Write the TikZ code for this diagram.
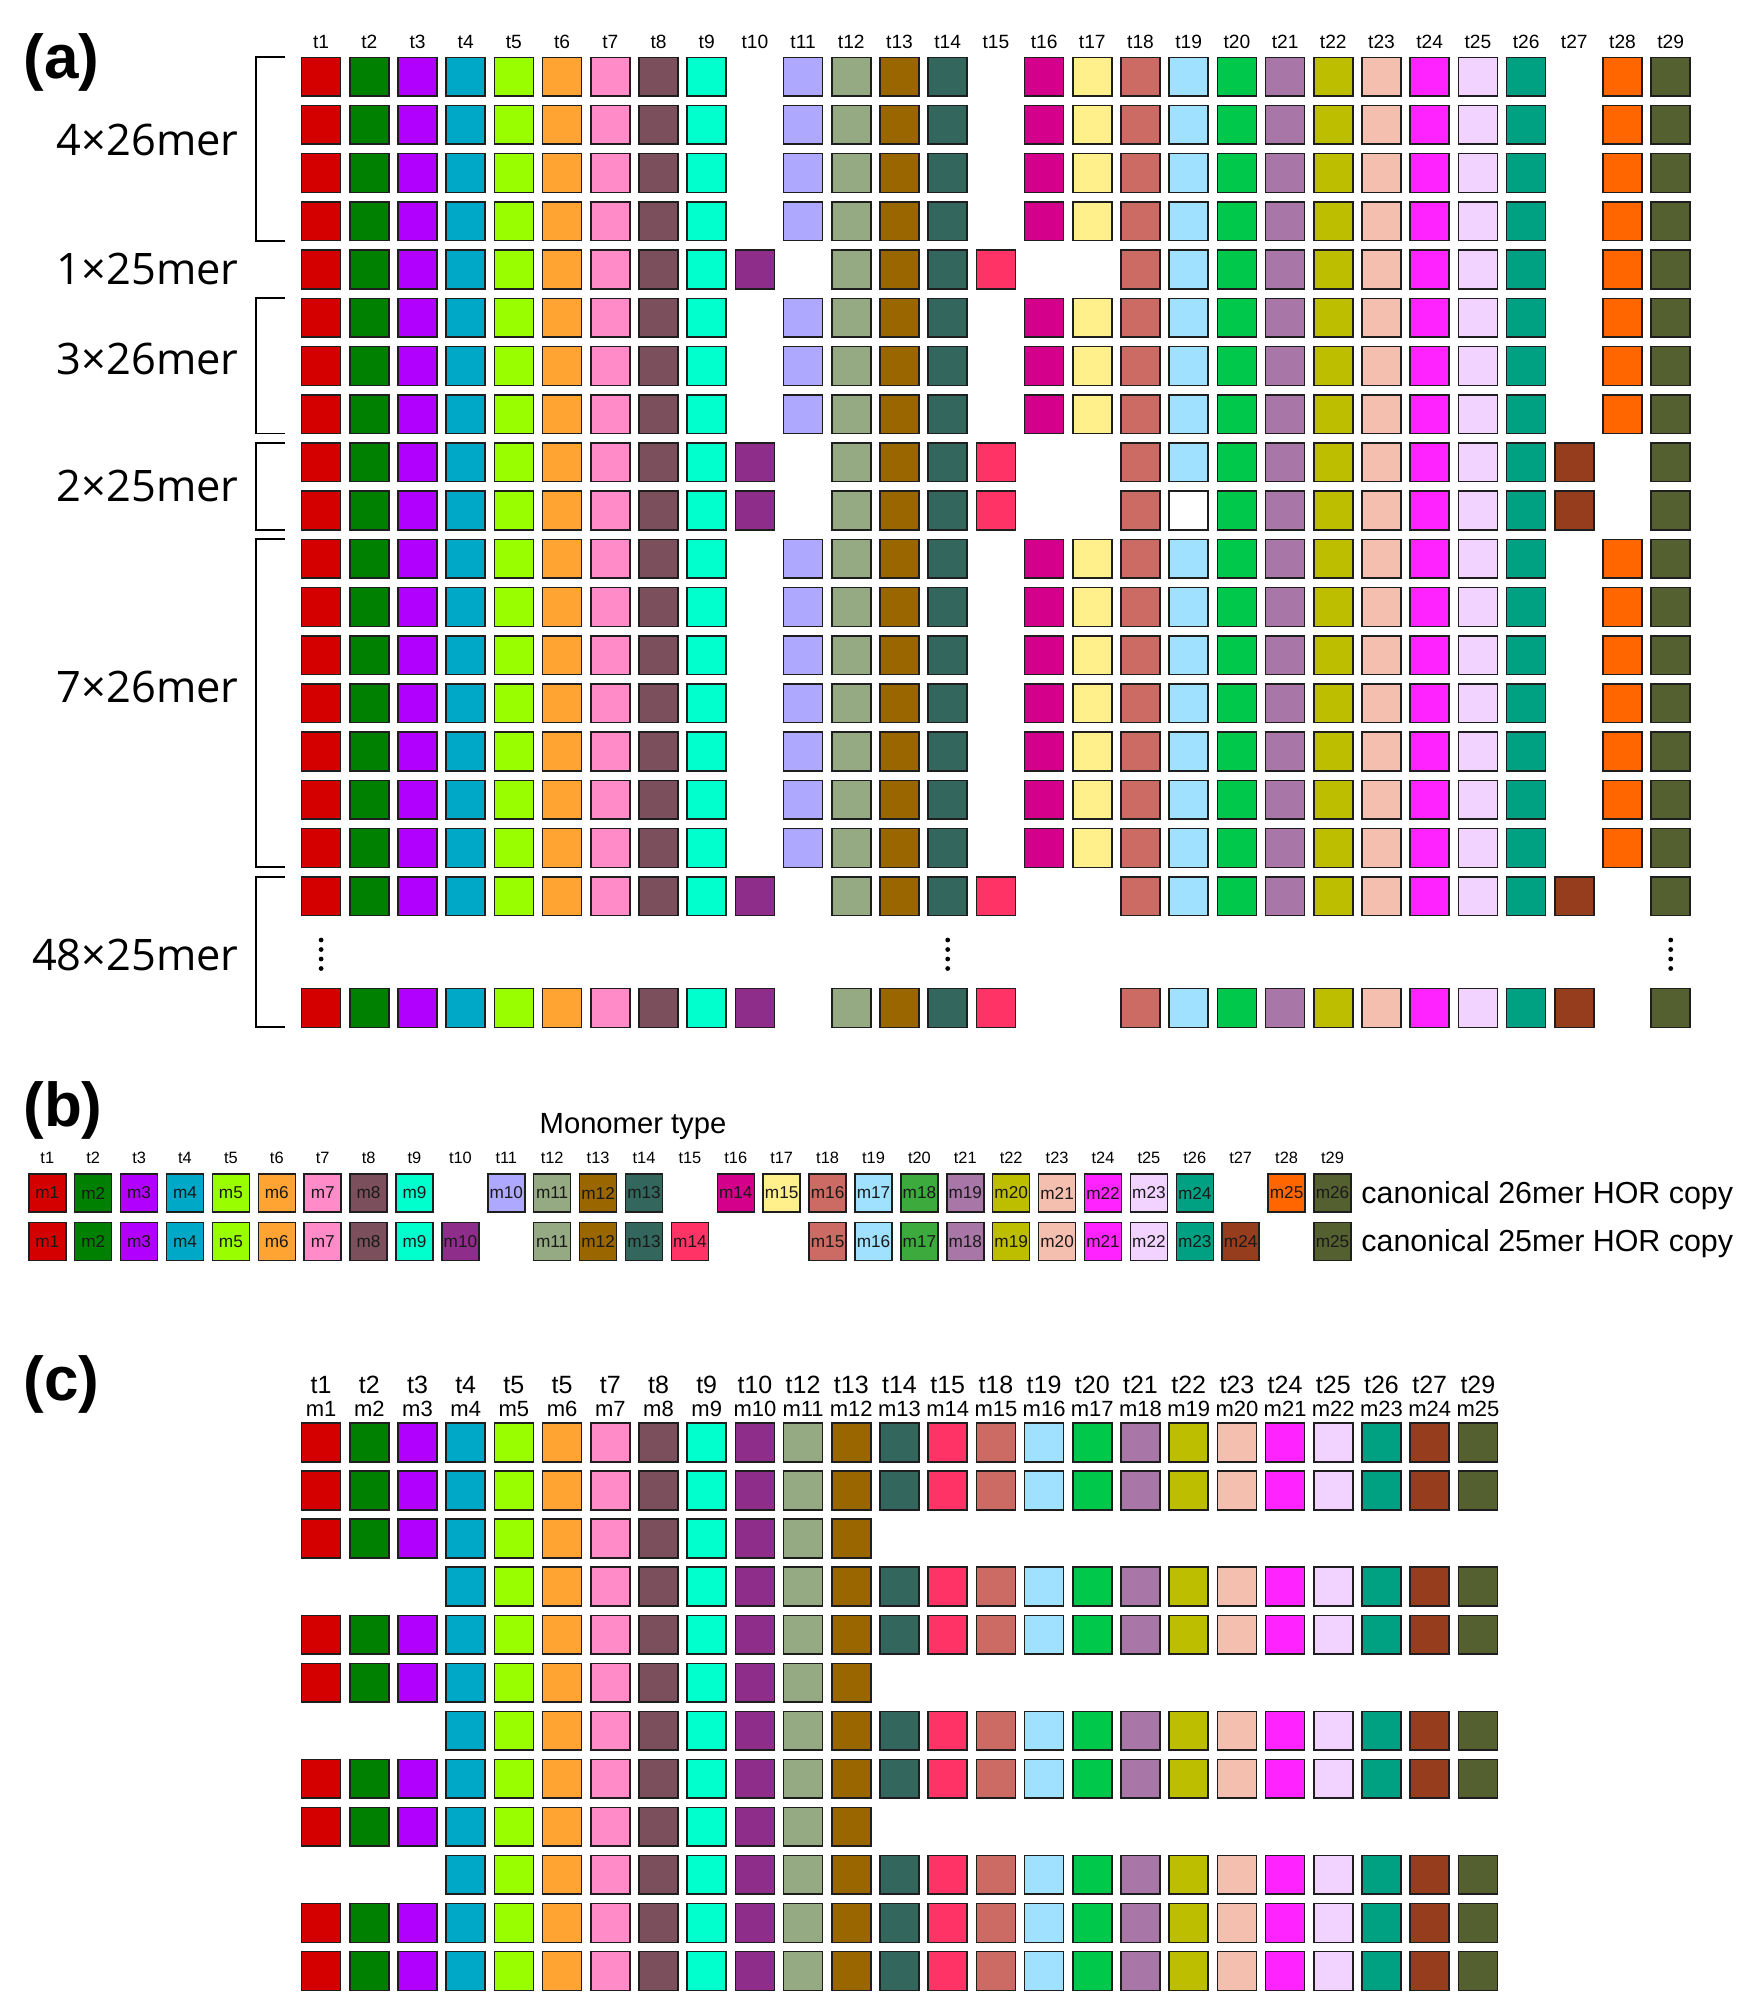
\documentclass[tikz,border=0pt]{standalone}
\usepackage{fontspec}
\setmainfont{Liberation Sans}
\newfontfamily\lblfont{Open Sans}
\definecolor{c1}{HTML}{D40000}
\definecolor{c2}{HTML}{008000}
\definecolor{c3}{HTML}{B200FF}
\definecolor{c4}{HTML}{00A8C8}
\definecolor{c5}{HTML}{99FF00}
\definecolor{c6}{HTML}{FFA333}
\definecolor{c7}{HTML}{FF8CC8}
\definecolor{c8}{HTML}{7B505C}
\definecolor{c9}{HTML}{00FFCC}
\definecolor{c10}{HTML}{8F2D8A}
\definecolor{c11}{HTML}{AEA8FF}
\definecolor{c12}{HTML}{95A982}
\definecolor{c13}{HTML}{996600}
\definecolor{c14}{HTML}{33665C}
\definecolor{c15}{HTML}{FF3366}
\definecolor{c16}{HTML}{D4008C}
\definecolor{c17}{HTML}{FFF08C}
\definecolor{c18}{HTML}{CC6B63}
\definecolor{c19}{HTML}{A0E1FF}
\definecolor{c20}{HTML}{00C84B}
\definecolor{c21}{HTML}{A877A8}
\definecolor{c22}{HTML}{BEBE00}
\definecolor{c23}{HTML}{F5BFAF}
\definecolor{c24}{HTML}{FF24FF}
\definecolor{c25}{HTML}{F2D2FF}
\definecolor{c26}{HTML}{00A082}
\definecolor{c27}{HTML}{963D1E}
\definecolor{c28}{HTML}{FF6600}
\definecolor{c29}{HTML}{556030}
\definecolor{bc20}{HTML}{3CAA3C}
\definecolor{edge}{HTML}{1E1E1E}
\begin{document}
\begin{tikzpicture}[x=0.5pt,y=-0.5pt,
  cell/.style={draw=edge, line width=0.75pt, minimum width=19.5pt, minimum height=19.35pt, inner sep=0pt, outer sep=0pt},
  bcell/.style={draw=edge, line width=0.75pt, minimum width=18.5pt, minimum height=19pt, inner sep=0pt, outer sep=0pt, font=\fontsize{8.6pt}{9pt}\selectfont, text=black!90},
  brk/.style={line width=0.9pt, draw=black},
  ahdr/.style={font=\fontsize{9.6pt}{10pt}\selectfont, anchor=base, inner sep=0pt},
  bhdr/.style={font=\fontsize{8.2pt}{9pt}\selectfont, anchor=base, inner sep=0pt},
  chdr/.style={font=\fontsize{12.5pt}{13pt}\selectfont, anchor=base, inner sep=0pt},
  cmhdr/.style={font=\fontsize{11pt}{12pt}\selectfont, anchor=base, inner sep=0pt},
  rowlbl/.style={font=\lblfont\fontsize{21.7pt}{22pt}\selectfont, anchor=east, inner sep=0pt},
  panel/.style={font=\bfseries\fontsize{31pt}{31pt}\selectfont, anchor=base west, inner sep=0pt},
  side/.style={font=\fontsize{15.2pt}{16pt}\selectfont, anchor=base west, inner sep=0pt}]
\useasboundingbox (0,0) rectangle (1754,2011);

% ---------------- panel (a) ----------------
\node[panel] (pa) at (23,79) {(a)};
\foreach \c in {1,...,29}{
  \node[ahdr] (ah-\c) at ({321.1+(\c-1)*48.2},48.3) {t\c};
}
% 26mer rows
\foreach \r in {1,2,3,4,6,7,8,11,12,13,14,15,16,17}{
  \foreach \c in {1,2,3,4,5,6,7,8,9,11,12,13,14,16,17,18,19,20,21,22,23,24,25,26,28,29}{
    \node[cell, fill=c\c] (a-\r-\c) at ({321.1+(\c-1)*48.2},{76.7+(\r-1)*48.2}) {};
  }
}
% 25mer rows
\foreach \r in {9,18}{
  \foreach \c in {1,2,3,4,5,6,7,8,9,10,12,13,14,15,18,19,20,21,22,23,24,25,26,27,29}{
    \node[cell, fill=c\c] (a-\r-\c) at ({321.1+(\c-1)*48.2},{76.7+(\r-1)*48.2}) {};
  }
}
\foreach \c in {1,2,3,4,5,6,7,8,9,10,12,13,14,15,18,20,21,22,23,24,25,26,27,29}{
  \node[cell, fill=c\c] (a-10-\c) at ({321.1+(\c-1)*48.2},{76.7+9*48.2}) {};
}
\node[cell, fill=white] (a-10-19) at ({321.1+18*48.2},{76.7+9*48.2}) {};
% row 5 (1x25mer variant)
\foreach \c in {1,2,3,4,5,6,7,8,9,10,12,13,14,15,18,19,20,21,22,23,24,25,26,28,29}{
  \node[cell, fill=c\c] (a-5-\c) at ({321.1+(\c-1)*48.2},{76.7+4*48.2}) {};
}
% last row
\foreach \c in {1,2,3,4,5,6,7,8,9,10,12,13,14,15,18,19,20,21,22,23,24,25,26,27,29}{
  \node[cell, fill=c\c] (a-19-\c) at ({321.1+(\c-1)*48.2},1008) {};
}
% vertical dots
\foreach \c in {1,14,29}{
  \foreach \yy in {940,949.5,959,968.5}{
    \fill ({321.1+(\c-1)*48.2},\yy) circle (1.2pt);
  }
}
% brackets
\draw[brk] (285,57.35) -- (255.6,57.35) -- (255.6,240.65) -- (285,240.65);
\draw[brk] (285,298.35) -- (255.6,298.35) -- (255.6,433.45) -- (285,433.45);
\draw[brk] (285,442.95) -- (255.6,442.95) -- (255.6,529.85) -- (285,529.85);
\draw[brk] (285,539.35) -- (255.6,539.35) -- (255.6,867.25) -- (285,867.25);
\draw[brk] (285,876.75) -- (255.6,876.75) -- (255.6,1027.35) -- (285,1027.35);
% row labels
\node[rowlbl] (l1) at (239,140) {4×26mer};
\node[rowlbl] (l2) at (239,269) {1×25mer};
\node[rowlbl] (l3) at (239,359) {3×26mer};
\node[rowlbl] (l4) at (239,486) {2×25mer};
\node[rowlbl] (l5) at (239,687) {7×26mer};
\node[rowlbl] (l6) at (239,955) {48×25mer};

% ---------------- panel (b) ----------------
\node[panel] (pb) at (23,1126) {(b)};
\node[font=\fontsize{14.6pt}{15pt}\selectfont, anchor=base, inner sep=0pt] (mt) at (633,1133) {Monomer type};
\foreach \c in {1,...,29}{
  \node[bhdr] (bh-\c) at ({47.3+(\c-1)*45.9},1163) {t\c};
}
\foreach \c/\m in {1/1,2/2,3/3,4/4,5/5,6/6,7/7,8/8,9/9,11/10,12/11,13/12,14/13,16/14,17/15,18/16,19/17,21/19,22/20,23/21,24/22,25/23,26/24,28/25,29/26}{
  \node[bcell, fill=c\c] (b1-\c) at ({47.3+(\c-1)*45.9},1193) {m\m};
}
\node[bcell, fill=bc20] (b1-20) at ({47.3+19*45.9},1193) {m18};
\foreach \c/\m in {1/1,2/2,3/3,4/4,5/5,6/6,7/7,8/8,9/9,10/10,12/11,13/12,14/13,15/14,18/15,19/16,21/18,22/19,23/20,24/21,25/22,26/23,27/24,29/25}{
  \node[bcell, fill=c\c] (b2-\c) at ({47.3+(\c-1)*45.9},1241.3) {m\m};
}
\node[bcell, fill=bc20] (b2-20) at ({47.3+19*45.9},1241.3) {m17};
\node[side] (s1) at (1361,1203) {canonical 26mer HOR copy};
\node[side] (s2) at (1361,1251.5) {canonical 25mer HOR copy};

% ---------------- panel (c) ----------------
\node[panel] (pc) at (23,1400) {(c)};
\foreach \k/\t in {1/t1,2/t2,3/t3,4/t4,5/t5,6/t5,7/t7,8/t8,9/t9,10/t10,11/t12,12/t13,13/t14,14/t15,15/t18,16/t19,17/t20,18/t21,19/t22,20/t23,21/t24,22/t25,23/t26,24/t27,25/t29}{
  \node[chdr] (ch-\k) at ({321.1+(\k-1)*48.2},1393) {\t};
  \node[cmhdr] (cm-\k) at ({321.1+(\k-1)*48.2},1416) {m\k};
}
\foreach \r/\lo/\hi in {1/1/25,2/1/25,3/1/12,4/4/25,5/1/25,6/1/12,7/4/25,8/1/25,9/1/12,10/4/25,11/1/25,12/1/25}{
  \foreach \k/\t in {1/1,2/2,3/3,4/4,5/5,6/6,7/7,8/8,9/9,10/10,11/12,12/13,13/14,14/15,15/18,16/19,17/20,18/21,19/22,20/23,21/24,22/25,23/26,24/27,25/29}{
    \ifnum\k<\lo\relax\else\ifnum\k>\hi\relax\else
      \node[cell, fill=c\t] (c-\r-\k) at ({321.1+(\k-1)*48.2},{1442.4+(\r-1)*48.05}) {};
    \fi\fi
  }
}
\end{tikzpicture}
\end{document}
